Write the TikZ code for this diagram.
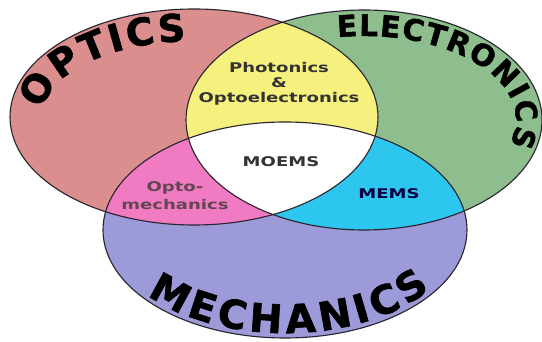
\documentclass[tikz,border=0pt]{standalone}
\usepackage{fontspec}
\setmainfont{DejaVu Sans}
\newfontfamily\areafont{DejaVu Sans}[FakeStretch=1.35]
\newfontfamily\heavyfont{DejaVu Sans}[BoldFeatures={FakeBold=1.6}]
\definecolor{opticsred}{HTML}{DA8F8E}
\definecolor{electrogreen}{HTML}{8EBE8D}
\definecolor{mechblue}{HTML}{9C9AD8}
\definecolor{photoyellow}{HTML}{F6F07E}
\definecolor{optopink}{HTML}{F07BC3}
\definecolor{memscyan}{HTML}{2CC6EE}
\definecolor{rimdark}{HTML}{2A2530}
\usetikzlibrary{decorations.text}
\newcommand\opticsfont{\heavyfont\bfseries\fontsize{27}{27}\selectfont}
\newcommand\elecfont{\heavyfont\bfseries\fontsize{21}{21}\selectfont}
\newcommand\mechfont{\heavyfont\bfseries\fontsize{28}{28}\selectfont}

\begin{document}
\begin{tikzpicture}[x=0.025cm, y=0.025cm,
  rim/.style={draw=rimdark, line width=0.8pt},
  area/.style={font=\areafont\bfseries\fontsize{9.5}{10.8}\selectfont,
    text=black!80, align=center, inner sep=0pt},
  arcword/.style={decorate, decoration={text along path, text align=fit to path}}
]
  \useasboundingbox[fill=white] (0,0) rectangle (542,342);
  \coordinate (optc) at (194,225);
  \coordinate (elec) at (364,222);
  \coordinate (mech) at (285,112);

  % the three fields
  \fill[opticsred] (optc) ellipse [x radius=184, y radius=108];
  \fill[electrogreen] (elec) ellipse [x radius=178, y radius=110];
  \fill[mechblue] (mech) ellipse [x radius=182, y radius=108];
  \begin{scope}
    \clip (elec) ellipse [x radius=178, y radius=110];
    \fill[memscyan] (mech) ellipse [x radius=182, y radius=108];
  \end{scope}
  \begin{scope}
    \clip (optc) ellipse [x radius=184, y radius=108];
    \fill[photoyellow] (elec) ellipse [x radius=178, y radius=110];
    \fill[optopink] (mech) ellipse [x radius=182, y radius=108];
    \clip (elec) ellipse [x radius=178, y radius=110];
    \fill[white] (mech) ellipse [x radius=182, y radius=108];
  \end{scope}
  \draw[rim] (optc) ellipse [x radius=184, y radius=108];
  \draw[rim] (elec) ellipse [x radius=178, y radius=110];
  \draw[rim] (mech) ellipse [x radius=182, y radius=108];

  % overlaps
  \node[area] (photo) at (279,258) {Photonics\\\&\\Optoelectronics};
  \node[area] (moems) at (281,180) {MOEMS};
  \node[area, text=black!75!blue] (mems) at (389,148) {MEMS};
  \node[area, text=black!70!magenta, font=\areafont\bfseries\fontsize{9.5}{12.8}\selectfont]
    (optomech) at (175,146) {Opto-\\mechanics};

  % curved names
  \path[arcword, decoration={text={|\opticsfont|OPTICS}}]
    (optc) ++(175:152 and 76) arc [start angle=175, end angle=93, x radius=152, y radius=76];
  \path[arcword, decoration={text={|\elecfont|ELECTRONICS}}]
    (elec) ++(100:152 and 84) arc [start angle=100, end angle=-17, x radius=152, y radius=84];
  \path[arcword, decoration={text={|\mechfont|MECHANICS}}]
    (mech) ++(219:177 and 103) arc [start angle=219, end angle=325, x radius=177, y radius=103];
\end{tikzpicture}
\end{document}
